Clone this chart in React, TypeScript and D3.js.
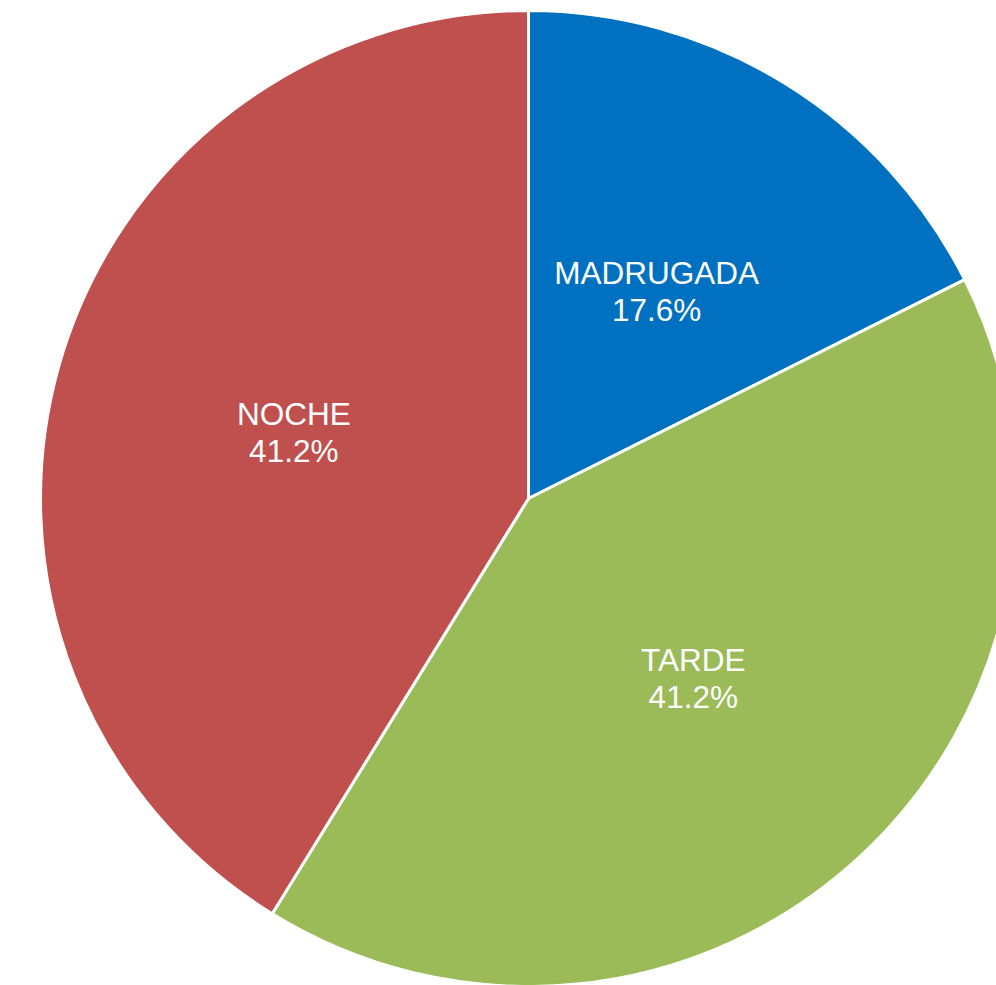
import React, { useEffect, useRef } from 'react';
import * as d3 from 'd3';

const categories = ['MADRUGADA', 'TARDE', 'NOCHE'];
const shares = [17.6, 41.2, 41.2];
const labels = ['17.6%', '41.2%', '41.2%'];
const colors = ['#0070C0', '#9BBB59', '#C0504D'];

const App = () => {
    const svgRef = useRef<SVGSVGElement>(null);

    useEffect(() => {
        const width = 996;
        const height = 985;
        const cx = 528.5;
        const cy = 498.5;
        const radius = 488;

        const svg = d3.select(svgRef.current)
            .attr('width', width)
            .attr('height', height);
        svg.selectAll('*').remove();

        const g = svg.append('g')
            .attr('transform', `translate(${cx},${cy})`);

        const data = categories.map((c, i) => ({ name: c, value: shares[i], label: labels[i], color: colors[i] }));

        const pie = d3.pie<any>()
            .sort(null)
            .value(d => d.value);

        const arc = d3.arc<any>()
            .innerRadius(0)
            .outerRadius(radius);

        const labelArc = d3.arc<any>()
            .innerRadius(radius * 0.5)
            .outerRadius(radius * 0.5);

        const arcs = pie(data);

        g.selectAll('path')
            .data(arcs)
            .enter()
            .append('path')
            .attr('d', arc)
            .attr('fill', d => d.data.color)
            .attr('stroke', '#ffffff')
            .attr('stroke-width', 3)
            .attr('stroke-linejoin', 'round');

        // slice labels: name + percentage
        const text = g.selectAll('text.lbl')
            .data(arcs)
            .enter()
            .append('text')
            .attr('class', 'lbl')
            .attr('transform', d => `translate(${labelArc.centroid(d)})`)
            .attr('text-anchor', 'middle')
            .attr('fill', '#ffffff')
            .style('font-family', 'Liberation Sans, Arial, sans-serif')
            .style('font-size', '31.5px');

        text.append('tspan')
            .attr('x', 0)
            .attr('y', -7)
            .text(d => d.data.name);

        text.append('tspan')
            .attr('x', 0)
            .attr('y', 30)
            .text(d => d.data.label);
    }, []);

    return (
        <svg ref={svgRef} style={{ position: 'absolute', left: 0, top: 0, display: 'block' }}></svg>
    );
};

export default App;
